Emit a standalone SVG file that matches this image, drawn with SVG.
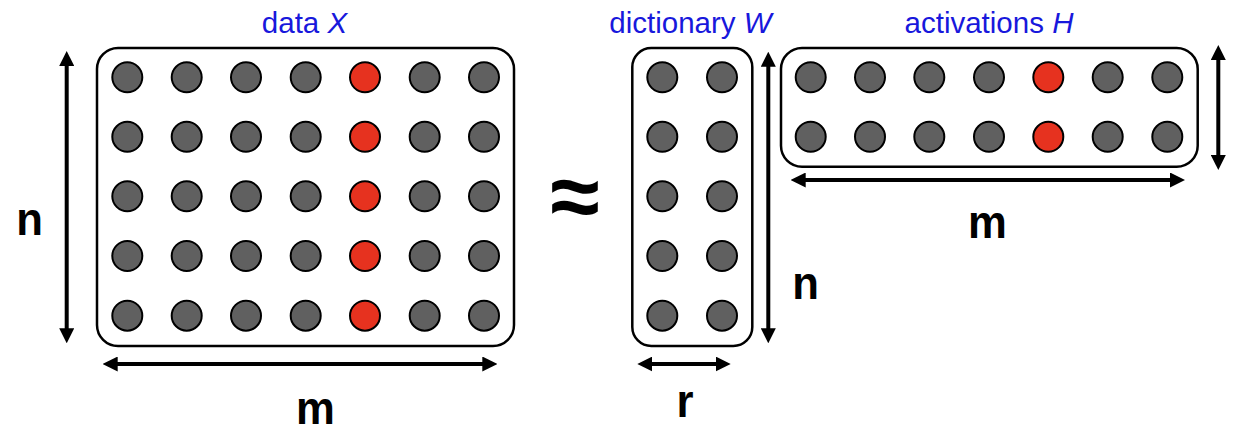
<svg xmlns="http://www.w3.org/2000/svg" width="1238" height="432" viewBox="0 0 1238 432">
  <defs>
    <style>
      .box { fill: #ffffff; stroke: #000000; stroke-width: 2.5; }
      .dot { fill: #606060; stroke: #000000; stroke-width: 2; }
      .red { fill: #e6321f; stroke: #000000; stroke-width: 2; }
      .title { font-family: "Liberation Sans", Arial, sans-serif; font-size: 29.5px; fill: #1818dc; text-anchor: middle; }
      .dim { font-family: "Liberation Sans", Arial, sans-serif; font-size: 47px; font-weight: bold; fill: #000000; text-anchor: middle; }
      .arr { stroke: #000000; stroke-width: 4; fill: none; marker-start: url(#ah); marker-end: url(#ah); }
    </style>
    <marker id="ah" markerUnits="userSpaceOnUse" markerWidth="15" markerHeight="15" refX="3" refY="7.5" orient="auto-start-reverse" viewBox="0 0 15 15">
      <path d="M0,0 L15,7.5 L0,15 z" fill="#000000"/>
    </marker>
  </defs>
  <rect width="1238" height="432" fill="#ffffff"/>

  <g id="matrix-X">
    <text class="title" x="304.5" y="33">data <tspan font-style="italic">X</tspan></text>
    <rect class="box" x="97" y="48" width="417" height="298" rx="21" ry="21"/>
    <g>
      <circle class="dot" cx="127.3" cy="77.3" r="15"/><circle class="dot" cx="186.7" cy="77.3" r="15"/><circle class="dot" cx="246" cy="77.3" r="15"/><circle class="dot" cx="305.7" cy="77.3" r="15"/><circle class="red" cx="365" cy="77.3" r="15"/><circle class="dot" cx="424.7" cy="77.3" r="15"/><circle class="dot" cx="484" cy="77.3" r="15"/>
      <circle class="dot" cx="127.3" cy="136.8" r="15"/><circle class="dot" cx="186.7" cy="136.8" r="15"/><circle class="dot" cx="246" cy="136.8" r="15"/><circle class="dot" cx="305.7" cy="136.8" r="15"/><circle class="red" cx="365" cy="136.8" r="15"/><circle class="dot" cx="424.7" cy="136.8" r="15"/><circle class="dot" cx="484" cy="136.8" r="15"/>
      <circle class="dot" cx="127.3" cy="196.3" r="15"/><circle class="dot" cx="186.7" cy="196.3" r="15"/><circle class="dot" cx="246" cy="196.3" r="15"/><circle class="dot" cx="305.7" cy="196.3" r="15"/><circle class="red" cx="365" cy="196.3" r="15"/><circle class="dot" cx="424.7" cy="196.3" r="15"/><circle class="dot" cx="484" cy="196.3" r="15"/>
      <circle class="dot" cx="127.3" cy="256" r="15"/><circle class="dot" cx="186.7" cy="256" r="15"/><circle class="dot" cx="246" cy="256" r="15"/><circle class="dot" cx="305.7" cy="256" r="15"/><circle class="red" cx="365" cy="256" r="15"/><circle class="dot" cx="424.7" cy="256" r="15"/><circle class="dot" cx="484" cy="256" r="15"/>
      <circle class="dot" cx="127.3" cy="315.7" r="15"/><circle class="dot" cx="186.7" cy="315.7" r="15"/><circle class="dot" cx="246" cy="315.7" r="15"/><circle class="dot" cx="305.7" cy="315.7" r="15"/><circle class="red" cx="365" cy="315.7" r="15"/><circle class="dot" cx="424.7" cy="315.7" r="15"/><circle class="dot" cx="484" cy="315.7" r="15"/>
    </g>
  </g>

  <g id="approx">
    <text x="575" y="227" font-family="Liberation Sans, Arial, sans-serif" font-size="90" font-weight="bold" text-anchor="middle" fill="#000000">≈</text>
  </g>

  <g id="matrix-W">
    <text class="title" x="690.5" y="33">dictionary <tspan font-style="italic">W</tspan></text>
    <rect class="box" x="632.3" y="48" width="120" height="298" rx="19" ry="19"/>
    <circle class="dot" cx="662.3" cy="77.3" r="15"/><circle class="dot" cx="722" cy="77.3" r="15"/>
    <circle class="dot" cx="662.3" cy="136.8" r="15"/><circle class="dot" cx="722" cy="136.8" r="15"/>
    <circle class="dot" cx="662.3" cy="196.3" r="15"/><circle class="dot" cx="722" cy="196.3" r="15"/>
    <circle class="dot" cx="662.3" cy="256" r="15"/><circle class="dot" cx="722" cy="256" r="15"/>
    <circle class="dot" cx="662.3" cy="315.7" r="15"/><circle class="dot" cx="722" cy="315.7" r="15"/>
  </g>

  <g id="matrix-H">
    <text class="title" x="989" y="33">activations <tspan font-style="italic">H</tspan></text>
    <rect class="box" x="781" y="48" width="416.7" height="118.7" rx="21" ry="21"/>
    <circle class="dot" cx="810.7" cy="77.3" r="15"/><circle class="dot" cx="870" cy="77.3" r="15"/><circle class="dot" cx="929.3" cy="77.3" r="15"/><circle class="dot" cx="989" cy="77.3" r="15"/><circle class="red" cx="1048.3" cy="77.3" r="15"/><circle class="dot" cx="1107.7" cy="77.3" r="15"/><circle class="dot" cx="1167.3" cy="77.3" r="15"/>
    <circle class="dot" cx="810.7" cy="136.8" r="15"/><circle class="dot" cx="870" cy="136.8" r="15"/><circle class="dot" cx="929.3" cy="136.8" r="15"/><circle class="dot" cx="989" cy="136.8" r="15"/><circle class="red" cx="1048.3" cy="136.8" r="15"/><circle class="dot" cx="1107.7" cy="136.8" r="15"/><circle class="dot" cx="1167.3" cy="136.8" r="15"/>
  </g>

  <g id="connectors">
    <line class="arr" x1="66.7" y1="63" x2="66.7" y2="331.3"/>
    <line class="arr" x1="114.7" y1="364" x2="485.3" y2="364"/>
    <line class="arr" x1="768.3" y1="63.7" x2="768.3" y2="331.3"/>
    <line class="arr" x1="649.3" y1="364" x2="718.7" y2="364"/>
    <line class="arr" x1="802.7" y1="180" x2="1173" y2="180"/>
    <line class="arr" x1="1218.3" y1="57" x2="1218.3" y2="158"/>
  </g>

  <g id="labels">
    <text class="dim" transform="translate(29.5,235) scale(0.93,1)">n</text>
    <text class="dim" transform="translate(315.5,424) scale(0.93,1)">m</text>
    <text class="dim" transform="translate(685,416.7) scale(0.93,1)">r</text>
    <text class="dim" transform="translate(805.7,299) scale(0.93,1)">n</text>
    <text class="dim" transform="translate(987.5,238.3) scale(0.93,1)">m</text>
  </g>
</svg>
